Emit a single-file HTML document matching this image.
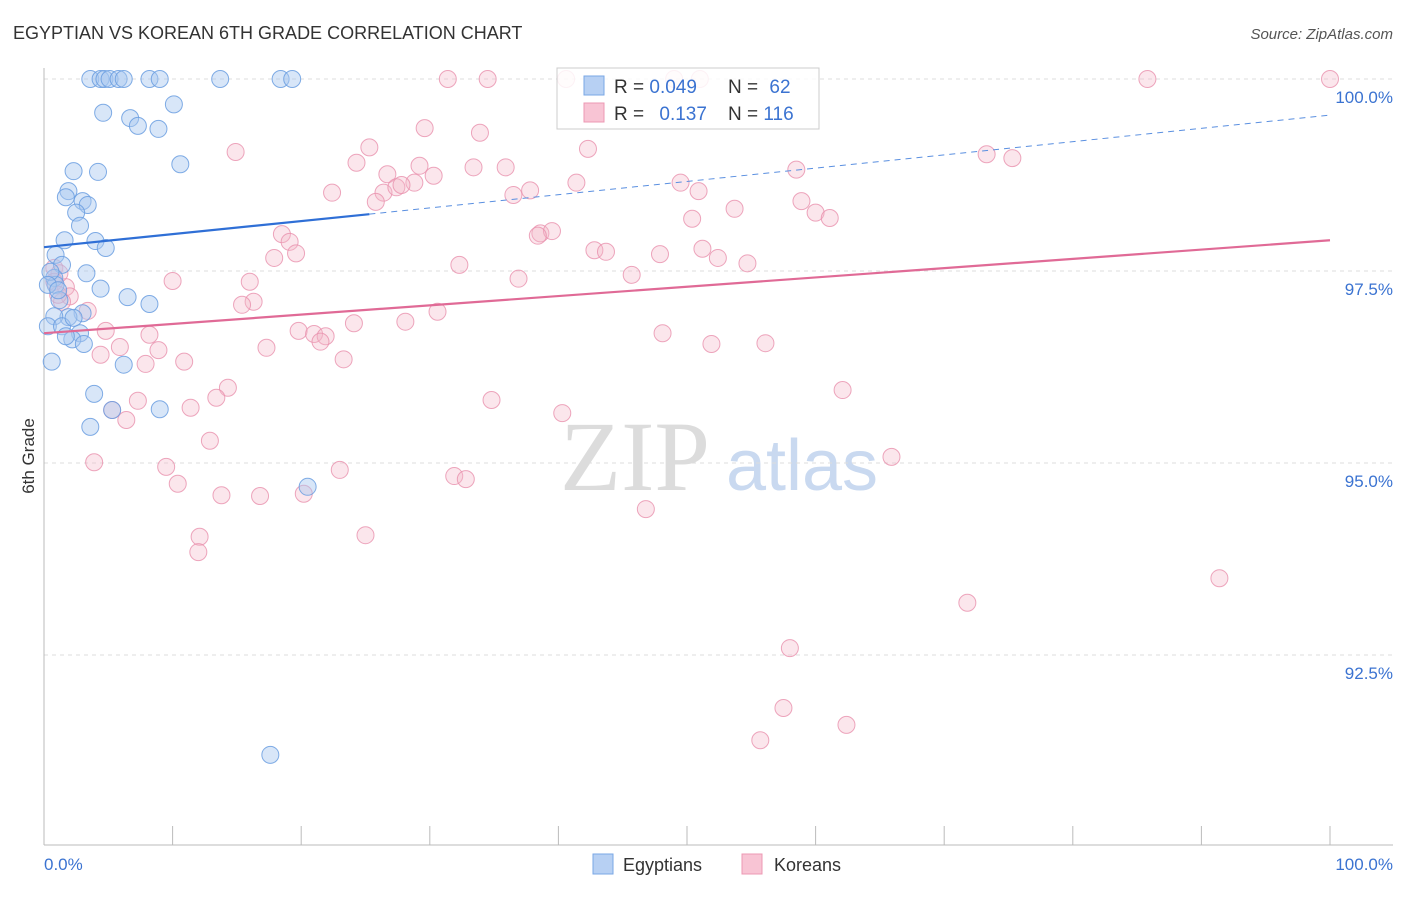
<!DOCTYPE html>
<html><head><meta charset="utf-8"><style>
body{margin:0;background:#fff;font-family:"Liberation Sans",sans-serif;}
</style></head><body>
<svg id="chart" width="1406" height="892" xmlns="http://www.w3.org/2000/svg">
<text x="13" y="39" font-size="18" fill="#333">EGYPTIAN VS KOREAN 6TH GRADE CORRELATION CHART</text>
<text x="1393" y="39" font-size="15" fill="#555" font-style="italic" text-anchor="end">Source: ZipAtlas.com</text>
<g>
<text x="635" y="490" font-size="100" font-family="Liberation Serif,serif" fill="#dcdcdc" text-anchor="middle">ZIP</text>
<text x="802" y="490" font-size="72" fill="#c9d9f0" text-anchor="middle">atlas</text>
</g>
<g id="grid"></g>
<g id="axes"></g>
<g id="marks"></g>
<text transform="translate(34,456) rotate(-90)" font-size="17" fill="#333" text-anchor="middle">6th Grade</text>
<g>
<rect x="557" y="68" width="262" height="61" fill="#fff" fill-opacity="0.85" stroke="#ccc"/>
<rect x="584" y="76" width="20" height="19" fill="#b7d0f3" stroke="#7aa7e6"/>
<rect x="584" y="103" width="20" height="19" fill="#f8c4d4" stroke="#ec98b3"/>
<text x="614" y="93" font-size="19" fill="#333">R = <tspan fill="#3b73d1">0.049</tspan></text>
<text x="728" y="93" font-size="19" fill="#333">N = <tspan fill="#3b73d1" dx="6">62</tspan></text>
<text x="614" y="120" font-size="19" fill="#333">R = <tspan fill="#3b73d1" dx="10">0.137</tspan></text>
<text x="728" y="120" font-size="19" fill="#333">N = <tspan fill="#3b73d1">116</tspan></text>
</g>
<g>
<rect x="593" y="854" width="20" height="20" fill="#b7d0f3" stroke="#7aa7e6"/>
<text x="623" y="871" font-size="18" fill="#333">Egyptians</text>
<rect x="742" y="854" width="20" height="20" fill="#f8c4d4" stroke="#ec98b3"/>
<text x="774" y="871" font-size="18" fill="#333">Koreans</text>
</g>
</svg>
<script>
const blueX=[3.6,4.4,4.7,5.1,5.8,6.2,8.2,9.0,13.7,18.4,19.3,4.6,10.1,6.7,7.3,8.9,10.6,2.3,4.2,1.9,1.7,3.0,3.4,2.5,2.8,1.6,4.0,4.8,0.9,1.4,3.3,0.8,0.9,4.4,6.5,8.2,1.2,3.0,1.9,0.8,0.3,1.4,2.8,2.2,3.1,0.6,6.2,3.9,5.3,9.0,3.6,20.5,17.6,0.5,0.3,2.3,1.1,1.7];
const blueY=[100,100,100,100,100,100,100,100,100,100,100,99.56,99.67,99.49,99.39,99.35,98.89,98.80,98.79,98.54,98.46,98.41,98.36,98.26,98.09,97.90,97.89,97.80,97.71,97.58,97.47,97.41,97.32,97.27,97.16,97.07,97.12,96.95,96.90,96.91,96.78,96.78,96.69,96.61,96.55,96.32,96.28,95.90,95.69,95.70,95.47,94.69,91.20,97.49,97.32,96.89,97.25,96.65];
const pinkX=[31.4,34.5,40.6,85.8,100,49.0,51.0,29.6,33.9,14.9,25.3,42.3,24.3,29.2,33.4,35.9,26.7,30.3,22.4,26.4,27.4,28.8,27.8,25.8,36.5,37.8,41.4,49.5,50.9,58.5,73.3,75.3,58.9,60.0,61.1,53.7,50.4,18.5,19.1,19.6,17.9,38.6,39.5,38.4,42.8,43.7,47.9,51.2,52.4,54.7,45.7,32.3,36.9,10.0,16.0,16.3,15.4,30.6,24.1,28.1,19.8,21.0,21.9,21.5,23.3,48.1,51.9,56.1,4.8,8.2,5.9,8.9,4.4,7.9,10.9,17.3,3.4,1.7,0.8,1.2,2.0,1.4,14.3,13.4,7.3,11.4,5.3,6.4,34.8,40.3,62.1,12.9,3.9,9.5,10.4,13.8,16.8,20.2,23.0,31.9,32.8,65.9,46.8,12.1,12.0,25.0,91.4,71.8,58.0,57.5,62.4,55.7,0.8,1.1];
const pinkY=[100,100,100,100,100,100,100,99.36,99.30,99.05,99.11,99.09,98.91,98.87,98.85,98.85,98.76,98.74,98.52,98.52,98.59,98.65,98.62,98.40,98.49,98.55,98.65,98.65,98.54,98.82,99.02,98.97,98.41,98.26,98.19,98.31,98.18,97.98,97.88,97.73,97.67,97.99,98.02,97.96,97.77,97.75,97.72,97.79,97.67,97.60,97.45,97.58,97.40,97.37,97.36,97.10,97.06,96.97,96.82,96.84,96.72,96.68,96.65,96.58,96.35,96.69,96.55,96.56,96.72,96.67,96.51,96.47,96.41,96.29,96.32,96.50,96.98,97.29,97.54,97.47,97.17,97.10,95.98,95.85,95.81,95.72,95.69,95.56,95.82,95.65,95.95,95.29,95.01,94.95,94.73,94.58,94.57,94.60,94.91,94.83,94.79,95.08,94.40,94.04,93.84,94.06,93.50,93.18,92.59,91.81,91.59,91.39,97.36,97.19];
const blueTrendX=[0,25.3,100];
const blueTrendY=[97.81,98.24,99.53];
const pinkTrendX=[0,100];
const pinkTrendY=[96.69,97.90];
const yTicks=[100,97.5,95,92.5];
const yTickLabels=["100.0%","97.5%","95.0%","92.5%"];
const xTickVals=[0,10,20,30,40,50,60,70,80,90,100];

const NS="http://www.w3.org/2000/svg";
const xs=v=>44+v*12.86;
const ys=v=>79+(100-v)/2.5*192;
function mk(tag,attrs,parent){const e=document.createElementNS(NS,tag);for(const k in attrs)e.setAttribute(k,attrs[k]);parent.appendChild(e);return e;}
const grid=document.getElementById('grid'),axes=document.getElementById('axes'),marks=document.getElementById('marks');
yTicks.forEach((t,i)=>{
  const l=mk('line',{x1:44,x2:1393,y1:ys(t),y2:ys(t),stroke:'#ddd','stroke-dasharray':'4,4'},grid);
  
  
  const tx=mk('text',{x:1393,y:ys(t)+24,'font-size':17,fill:'#3b73d1','text-anchor':'end'},axes);
  tx.textContent=yTickLabels[i];
  
  
});
const ax=mk('line',{x1:44,x2:44,y1:68,y2:845,stroke:'#bbb'},axes);


const bx=mk('line',{x1:44,x2:1393,y1:845,y2:845,stroke:'#bbb'},axes);


xTickVals.forEach(v=>{
  const t=mk('line',{x1:xs(v),x2:xs(v),y1:826,y2:845,stroke:'#bbb'},axes);
  
  
});
const xl0=mk('text',{x:44,y:870,'font-size':17,fill:'#3b73d1'},axes);xl0.textContent='0.0%';


const xl1=mk('text',{x:1393,y:870,'font-size':17,fill:'#3b73d1','text-anchor':'end'},axes);xl1.textContent='100.0%';



pinkX.forEach((x,i)=>{
  const c=mk('circle',{cx:xs(x),cy:ys(pinkY[i]),r:8.5,fill:'#f4b6c9','fill-opacity':0.35,stroke:'#e890ad','stroke-opacity':0.8,'stroke-width':1},marks);
  
  
});
blueX.forEach((x,i)=>{
  const c=mk('circle',{cx:xs(x),cy:ys(blueY[i]),r:8.5,fill:'#a9c7f0','fill-opacity':0.45,stroke:'#6a9de0','stroke-opacity':0.85,'stroke-width':1},marks);
  
  
});
const bs=mk('line',{x1:xs(blueTrendX[0]),y1:ys(blueTrendY[0]),x2:xs(blueTrendX[1]),y2:ys(blueTrendY[1]),stroke:'#2f6fd6','stroke-width':2.2},marks);


const bd=mk('line',{x1:xs(blueTrendX[1]),y1:ys(blueTrendY[1]),x2:xs(blueTrendX[2]),y2:ys(blueTrendY[2]),stroke:'#5a8fe0','stroke-width':1,'stroke-dasharray':'6,5'},marks);


const pl=mk('line',{x1:xs(pinkTrendX[0]),y1:ys(pinkTrendY[0]),x2:xs(pinkTrendX[1]),y2:ys(pinkTrendY[1]),stroke:'#e06a96','stroke-width':2.2},marks);


</script>
</body></html>
